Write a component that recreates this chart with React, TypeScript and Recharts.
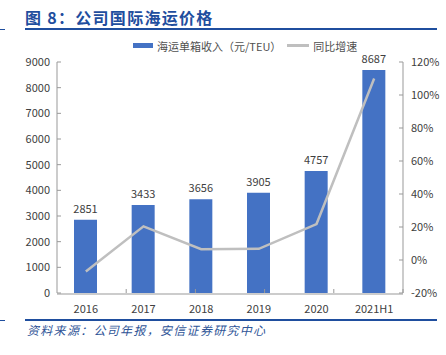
import React from "react";
import { ComposedChart, Bar, Line, XAxis, YAxis, LabelList } from "recharts";

const categories = ["2016", "2017", "2018", "2019", "2020", "2021H1"];
const revenuePerBox = [2851, 3433, 3656, 3905, 4757, 8687];
const yoyGrowth = [-7, 20.4, 6.5, 6.8, 21.8, 110];
const leftTicks = [0, 1000, 2000, 3000, 4000, 5000, 6000, 7000, 8000, 9000];
const rightTicks = [-20, 0, 20, 40, 60, 80, 100, 120];
const boundaryTicks = [1, 2, 3, 4, 5];

const data = categories.map((c, i) => ({
  name: c,
  rev: revenuePerBox[i],
  yoy: yoyGrowth[i],
}));

const FONT = '"Microsoft YaHei", "Noto Sans CJK SC", "Noto Sans", sans-serif';
const BLUE_TITLE = "#1F4E9E";

export default function App() {
  return (
    <div
      style={{
        position: "absolute",
        left: 0,
        top: 0,
        width: 446,
        height: 355,
        background: "#fff",
        fontFamily: FONT,
        overflow: "hidden",
      }}
    >
      <div
        style={{
          position: "absolute",
          left: 25,
          top: 8,
          fontSize: 16,
          fontWeight: 700,
          color: BLUE_TITLE,
          letterSpacing: 1.3,
          lineHeight: "18px",
          whiteSpace: "nowrap",
          fontFamily: '"Noto Sans CJK SC", sans-serif',
        }}
      >
        图 8：公司国际海运价格
      </div>
      <div style={{ position: "absolute", left: 0, top: 28.5, width: 5, height: 1, background: BLUE_TITLE }} />
      <div style={{ position: "absolute", left: 25, top: 28, width: 412, height: 1.5, background: BLUE_TITLE }} />

      <div
        style={{
          position: "absolute",
          left: 133,
          top: 37,
          height: 17,
          display: "flex",
          alignItems: "center",
          fontSize: 11,
          color: "#505050",
          whiteSpace: "nowrap",
          fontFamily: '"Noto Sans CJK SC", sans-serif',
        }}
      >
        <span style={{ display: "inline-block", width: 20, height: 5, background: "#4472C4", marginRight: 4 }} />
        <span>海运单箱收入（元/TEU）</span>
        <span style={{ display: "inline-block", width: 22, height: 2.5, background: "#BFBFBF", marginLeft: 6, marginRight: 4 }} />
        <span>同比增速</span>
      </div>

      <ComposedChart
        width={446}
        height={355}
        data={data}
        margin={{ top: 62, right: 0, bottom: 41, left: 0 }}
        barCategoryGap="20%"
      >
        <XAxis
          xAxisId="a"
          type="number"
          domain={[0, 6]}
          ticks={boundaryTicks}
          interval={0}
          allowDataOverflow
          height={1}
          axisLine={false}
          tickFormatter={() => ""}
          tickSize={-4}
          tickLine={{ stroke: "#999" }}
        />
        <XAxis
          xAxisId="x"
          dataKey="name"
          height={20}
          tickLine={false}
          axisLine={{ stroke: "#999" }}
          tickMargin={5}
          tick={{ fontSize: 11, fill: "#404040", fontFamily: FONT }}
          interval={0}
        />
        <YAxis
          yAxisId="left"
          width={57}
          domain={[0, 9000]}
          ticks={leftTicks}
          interval={0}
          tickSize={-4}
          tickMargin={11}
          axisLine={{ stroke: "#999" }}
          tickLine={{ stroke: "#999" }}
          tick={{ fontSize: 11, fill: "#404040", fontFamily: FONT }}
        />
        <YAxis
          yAxisId="right"
          orientation="right"
          width={43}
          domain={[-20, 120]}
          ticks={rightTicks}
          interval={0}
          tickSize={-4}
          tickMargin={12}
          axisLine={{ stroke: "#999" }}
          tickLine={{ stroke: "#999" }}
          tickFormatter={(v: number) => `${v}%`}
          tick={{ fontSize: 11, fill: "#404040", fontFamily: FONT }}
        />
        <Bar xAxisId="x" yAxisId="left" dataKey="rev" fill="#4472C4" barSize={23} isAnimationActive={false}>
          <LabelList
            dataKey="rev"
            position="top"
            offset={7}
            style={{ fontSize: 11, fill: "#404040", fontFamily: FONT }}
          />
        </Bar>
        <Line
          xAxisId="x"
          yAxisId="right"
          dataKey="yoy"
          stroke="#BFBFBF"
          strokeWidth={2.5}
          dot={false}
          isAnimationActive={false}
        />
      </ComposedChart>

      <div style={{ position: "absolute", left: 0, top: 319.5, width: 5, height: 1, background: BLUE_TITLE }} />
      <div style={{ position: "absolute", left: 25, top: 319, width: 412, height: 1.5, background: BLUE_TITLE }} />
      <div
        style={{
          position: "absolute",
          left: 27,
          top: 322,
          fontSize: 12,
          fontStyle: "italic",
          color: "#2F5597",
          letterSpacing: 1.3,
          whiteSpace: "nowrap",
          lineHeight: "16px",
          fontFamily: '"Noto Sans CJK SC", sans-serif',
        }}
      >
        资料来源：公司年报，安信证券研究中心
      </div>
    </div>
  );
}
